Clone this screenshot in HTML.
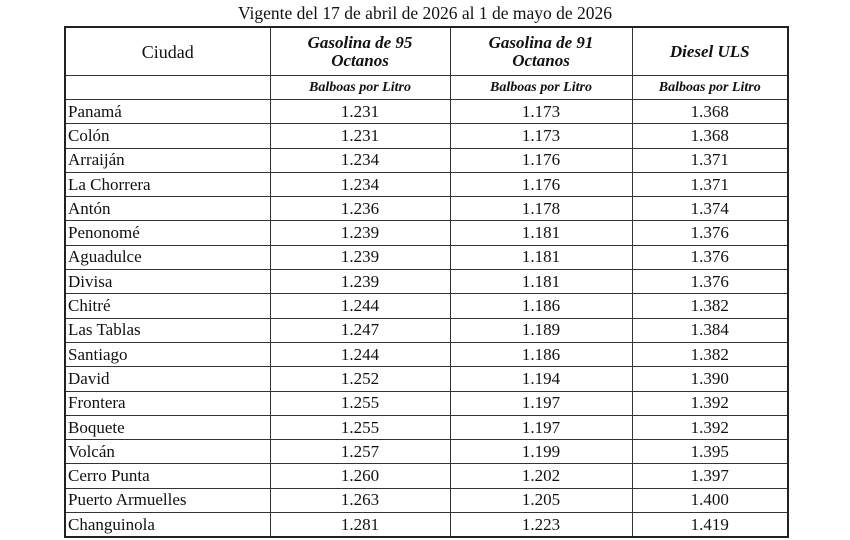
<!DOCTYPE html>
<html><head><meta charset="utf-8"><style>
html,body{margin:0;padding:0;background:#fff;width:850px;height:540px;overflow:hidden}
body{font-family:"Liberation Serif",serif;color:#111;position:relative}
.title{position:absolute;left:0;width:850px;top:3px;text-align:center;font-size:17.5px;line-height:20px}
table{position:absolute;left:64px;top:26px;border-collapse:collapse;border:2px solid #222;table-layout:fixed}
td{border:1px solid #333;padding:0;font-size:17px;text-align:center;line-height:18px;overflow:hidden}
td.c{text-align:left;padding-left:2px}
tr.h td{height:47px;font-weight:bold;font-style:italic;font-size:17px;line-height:18px}
tr.h td.c0{font-weight:normal;font-style:normal;font-size:18px;text-align:center}
tr.s td{height:23px;font-weight:bold;font-style:italic;font-size:14px}
tr.d td{height:23.3px}
</style></head><body>
<div class="title">Vigente del 17 de abril de 2026 al 1 de mayo de 2026</div>
<table>
<colgroup><col style="width:205px"><col style="width:180px"><col style="width:182px"><col style="width:156px"></colgroup>
<tr class="h"><td class="c0">Ciudad</td><td>Gasolina de 95<br>Octanos</td><td>Gasolina de 91<br>Octanos</td><td>Diesel ULS</td></tr>
<tr class="s"><td></td><td>Balboas por Litro</td><td>Balboas por Litro</td><td>Balboas por Litro</td></tr>
<tr class="d"><td class="c">Panamá</td><td>1.231</td><td>1.173</td><td>1.368</td></tr>
<tr class="d"><td class="c">Colón</td><td>1.231</td><td>1.173</td><td>1.368</td></tr>
<tr class="d"><td class="c">Arraiján</td><td>1.234</td><td>1.176</td><td>1.371</td></tr>
<tr class="d"><td class="c">La Chorrera</td><td>1.234</td><td>1.176</td><td>1.371</td></tr>
<tr class="d"><td class="c">Antón</td><td>1.236</td><td>1.178</td><td>1.374</td></tr>
<tr class="d"><td class="c">Penonomé</td><td>1.239</td><td>1.181</td><td>1.376</td></tr>
<tr class="d"><td class="c">Aguadulce</td><td>1.239</td><td>1.181</td><td>1.376</td></tr>
<tr class="d"><td class="c">Divisa</td><td>1.239</td><td>1.181</td><td>1.376</td></tr>
<tr class="d"><td class="c">Chitré</td><td>1.244</td><td>1.186</td><td>1.382</td></tr>
<tr class="d"><td class="c">Las Tablas</td><td>1.247</td><td>1.189</td><td>1.384</td></tr>
<tr class="d"><td class="c">Santiago</td><td>1.244</td><td>1.186</td><td>1.382</td></tr>
<tr class="d"><td class="c">David</td><td>1.252</td><td>1.194</td><td>1.390</td></tr>
<tr class="d"><td class="c">Frontera</td><td>1.255</td><td>1.197</td><td>1.392</td></tr>
<tr class="d"><td class="c">Boquete</td><td>1.255</td><td>1.197</td><td>1.392</td></tr>
<tr class="d"><td class="c">Volcán</td><td>1.257</td><td>1.199</td><td>1.395</td></tr>
<tr class="d"><td class="c">Cerro Punta</td><td>1.260</td><td>1.202</td><td>1.397</td></tr>
<tr class="d"><td class="c">Puerto Armuelles</td><td>1.263</td><td>1.205</td><td>1.400</td></tr>
<tr class="d"><td class="c">Changuinola</td><td>1.281</td><td>1.223</td><td>1.419</td></tr>
</table>
</body></html>
